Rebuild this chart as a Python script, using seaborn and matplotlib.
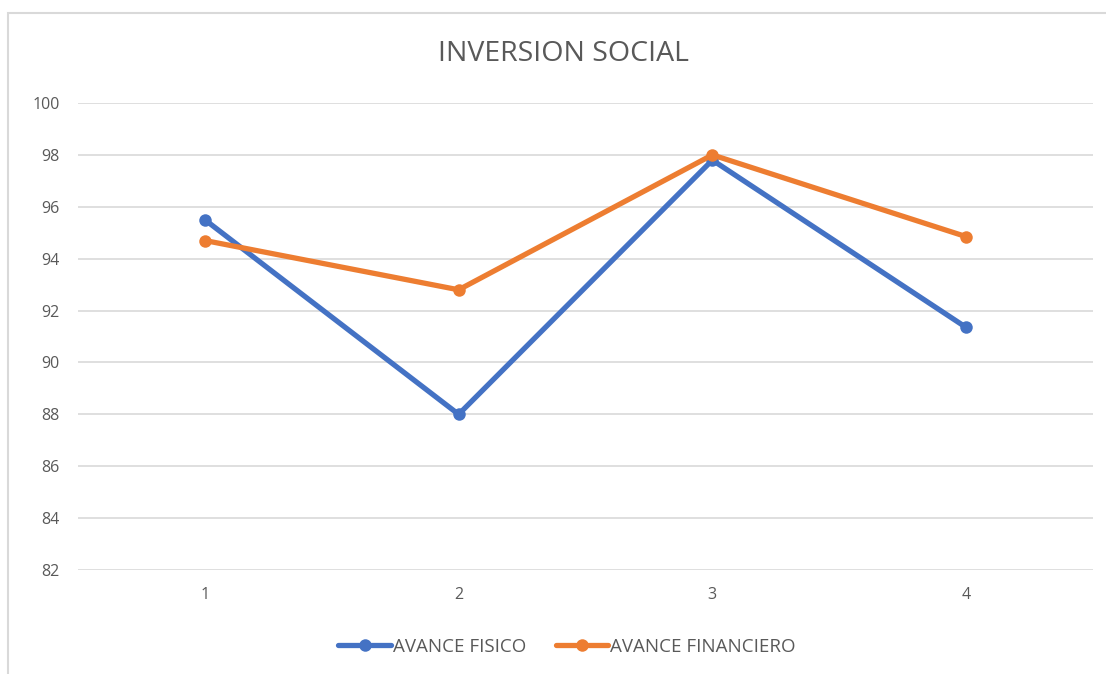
import matplotlib
matplotlib.use("Agg")
import matplotlib.pyplot as plt
import seaborn as sns
import pandas as pd
from matplotlib.patches import Rectangle
from matplotlib.lines import Line2D

categories = [1, 2, 3, 4]
avance_fisico = [95.5, 88.0, 97.8, 91.35]
avance_financiero = [94.7, 92.8, 98.0, 94.85]
series_names = ["AVANCE FISICO", "AVANCE FINANCIERO"]
yticks = [82, 84, 86, 88, 90, 92, 94, 96, 98, 100]

df = pd.DataFrame({
    "x": categories * 2,
    "y": avance_fisico + avance_financiero,
    "serie": [series_names[0]] * 4 + [series_names[1]] * 4,
})

sns.set_theme(style="white")
plt.rcParams["font.family"] = ["Open Sans", "DejaVu Sans"]

fig = plt.figure(figsize=(11.06, 6.74), dpi=100)
ax = fig.add_axes([78 / 1106, 1 - 570 / 674, (1093 - 78) / 1106, (570 - 103) / 674])

# chart border
fig.patches.append(Rectangle((8 / 1106, -0.05), 1.2, 1 - 13 / 674 + 0.05,
                             transform=fig.transFigure, fill=False,
                             edgecolor="#d9d9d9", linewidth=1.5))

sns.lineplot(data=df, x="x", y="y", hue="serie", palette=["#4472C4", "#ED7D31"],
             marker="o", markersize=9, markeredgewidth=0, linewidth=3.8,
             ax=ax, legend=False)

ax.set_xlim(0.5, 4.5)
ax.set_ylim(82, 100)
ax.set_yticks(yticks)
ax.set_xticks(categories)
ax.set_xticklabels([str(c) for c in categories])
ax.yaxis.grid(True, color="#d9d9d9", linewidth=1.2)
ax.set_axisbelow(True)
for s in ax.spines.values():
    s.set_visible(False)
ax.tick_params(axis="both", length=0, labelsize=11.5, labelcolor="#595959")
ax.tick_params(axis="y", pad=13)
ax.tick_params(axis="x", pad=12)
ax.set_xlabel("")
ax.set_ylabel("")

fig.text(564 / 1106, 1 - 54 / 674, "INVERSION SOCIAL", ha="center", va="center",
         fontsize=20.5, color="#595959")

handles = [Line2D([], [], color=c, lw=3.8, marker="o", markersize=9, markeredgewidth=0)
           for c in ["#4472C4", "#ED7D31"]]
fig.legend(handles, series_names, loc="center", bbox_to_anchor=(567 / 1106, 1 - 647 / 674),
           ncol=2, frameon=False, fontsize=13.5, labelcolor="#595959",
           handlelength=2.8, handletextpad=0.1, columnspacing=1.6)

fig.savefig("out.png", dpi=100)
